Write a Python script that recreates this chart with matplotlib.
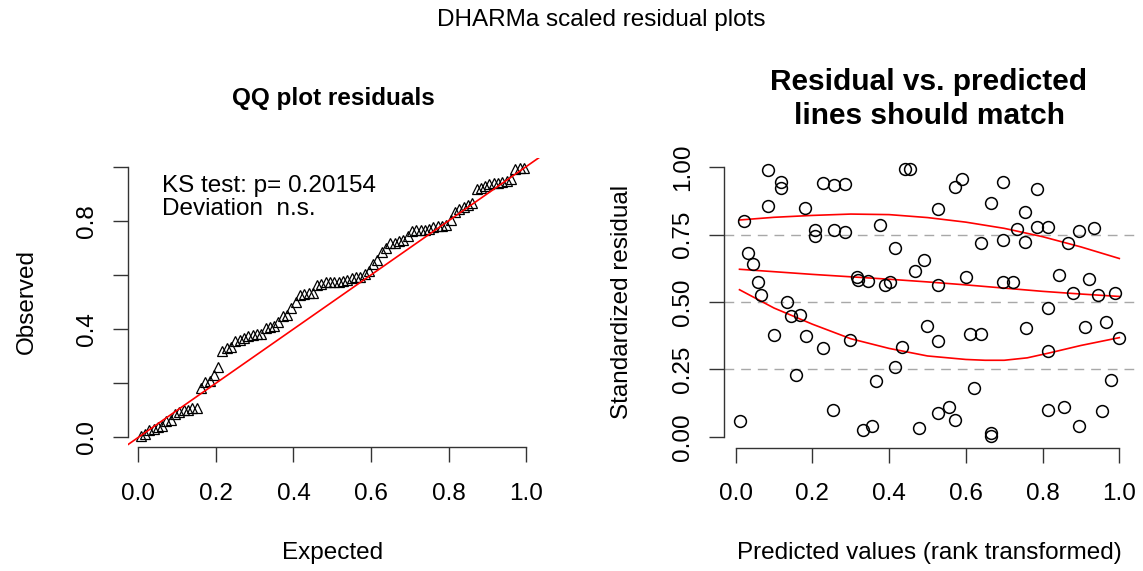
import matplotlib
matplotlib.use("Agg")
import matplotlib.pyplot as plt
import numpy as np

plt.rcParams['font.family'] = ['Liberation Sans', 'DejaVu Sans']

# scaled residuals: predicted rank vs residual
pred_rank = [0.022, 0.084, 0.117, 0.117, 0.084, 0.182, 0.227, 0.256, 0.284, 0.206,
             0.206, 0.256, 0.284, 0.377, 0.416, 0.442, 0.455, 0.527, 0.571, 0.590,
             0.490, 0.467, 0.666, 0.698, 0.755, 0.785, 0.733, 0.785, 0.815, 0.698,
             0.755, 0.639, 0.866, 0.895, 0.934, 0.032, 0.045, 0.058, 0.067, 0.133,
             0.317, 0.318, 0.345, 0.389, 0.401, 0.527, 0.600, 0.698, 0.724, 0.843,
             0.922, 0.879, 0.944, 0.989, 0.143, 0.167, 0.101, 0.183, 0.228, 0.299,
             0.156, 0.011, 0.254, 0.332, 0.356, 0.367, 0.416, 0.433, 0.499, 0.527,
             0.477, 0.527, 0.555, 0.572, 0.610, 0.639, 0.620, 0.666, 0.666, 0.756,
             0.815, 0.815, 0.815, 0.856, 0.895, 0.911, 0.956, 0.965, 0.978, 1.000]
resid = [0.802, 0.991, 0.947, 0.922, 0.858, 0.850, 0.941, 0.935, 0.939, 0.767,
         0.745, 0.767, 0.761, 0.786, 0.701, 0.994, 0.994, 0.845, 0.929, 0.956,
         0.655, 0.614, 0.867, 0.945, 0.833, 0.919, 0.770, 0.780, 0.780, 0.730,
         0.724, 0.718, 0.718, 0.765, 0.777, 0.684, 0.641, 0.575, 0.525, 0.500,
         0.593, 0.581, 0.577, 0.562, 0.575, 0.565, 0.593, 0.575, 0.575, 0.602,
         0.587, 0.534, 0.528, 0.534, 0.447, 0.451, 0.379, 0.374, 0.330, 0.361,
         0.230, 0.060, 0.099, 0.026, 0.038, 0.206, 0.258, 0.335, 0.411, 0.354,
         0.031, 0.087, 0.109, 0.063, 0.382, 0.380, 0.181, 0.012, 0.004, 0.403,
         0.479, 0.318, 0.101, 0.109, 0.041, 0.407, 0.094, 0.426, 0.209, 0.366]

# quantile regression curves (0.75, 0.5, 0.25)
q75_x = [0.01, 0.1, 0.2, 0.3, 0.4, 0.5, 0.6, 0.7, 0.8, 0.9, 1.0]
q75 = [0.805, 0.815, 0.822, 0.827, 0.825, 0.814, 0.797, 0.774, 0.743, 0.705, 0.662]
q50_x = [0.01, 0.1, 0.2, 0.3, 0.4, 0.5, 0.6, 0.7, 0.8, 0.9, 1.0]
q50 = [0.622, 0.613, 0.603, 0.594, 0.585, 0.575, 0.564, 0.552, 0.540, 0.530, 0.521]
q25_x = [0.01, 0.1, 0.2, 0.3, 0.4, 0.5, 0.6, 0.65, 0.7, 0.76, 0.82, 0.9, 1.0]
q25 = [0.546, 0.478, 0.418, 0.364, 0.328, 0.300, 0.287, 0.284, 0.284, 0.293, 0.312, 0.339, 0.368]

ks_text = ["KS test: p= 0.20154", "Deviation  n.s."]

W, H = 1143, 571
FS = 17.5


def r_axes(ax, yticks, ylabels):
    # base-R look: only left/bottom axis lines, spanning first to last tick
    for s in ['top', 'right']:
        ax.spines[s].set_visible(False)
    for s in ['left', 'bottom']:
        ax.spines[s].set_bounds(0, 1)
        ax.spines[s].set_color('#333333')
        ax.spines[s].set_linewidth(1.0)
    ax.set_xticks(np.arange(0, 1.01, 0.2))
    ax.set_xticklabels(['0.0', '0.2', '0.4', '0.6', '0.8', '1.0'])
    ax.set_yticks(yticks)
    ax.set_yticklabels(ylabels)
    ax.tick_params(axis='both', direction='out', length=10.8, width=1.0,
                   color='#333333', labelsize=FS)
    ax.tick_params(axis='x', pad=15)
    ax.tick_params(axis='y', pad=10.5)
    plt.setp(ax.get_yticklabels(), rotation=90, va='center')


fig = plt.figure(figsize=(W / 100, H / 100), dpi=100)

# left: QQ plot
ax1 = fig.add_axes([128 / W, (H - 447) / H, (539.6 - 128) / W, (447 - 157.5) / H])
observed = np.sort(resid)
n = len(observed)
expected = (np.arange(1, n + 1) - 0.5) / n
ax1.plot(expected, observed, linestyle='none', marker='^', markersize=7,
         markerfacecolor='none', markeredgecolor='black', markeredgewidth=0.9)
ax1.axline((0, 0), (1, 1), color='red', linewidth=1.2)
ax1.set_xlim(-0.027, 1.035)
ax1.set_ylim(-0.036, 1.034)
r_axes(ax1, np.arange(0, 1.01, 0.2), ['0.0', '', '0.4', '', '0.8', ''])
ax1.text(0.060, 0.908, ks_text[0], fontsize=FS, va='baseline')
ax1.text(0.060, 0.822, ks_text[1], fontsize=FS, va='baseline')

# right: residual vs predicted
ax2 = fig.add_axes([724 / W, (H - 447.5) / H, 410.5 / W, (447.5 - 157.8) / H])
for h in [0.25, 0.5, 0.75]:
    ax2.axhline(h, color='#a8a8a8', linewidth=1.0, linestyle=(0, (7, 5)), zorder=1)
ax2.plot(pred_rank, resid, linestyle='none', marker='o', markersize=8.5,
         markerfacecolor='none', markeredgecolor='black', markeredgewidth=1.1, zorder=3)
for qx, q in [(q25_x, q25), (q50_x, q50), (q75_x, q75)]:
    ax2.plot(qx, q, color='red', linewidth=1.2, zorder=2)
ax2.set_xlim(-0.0304, 1.0396)
ax2.set_ylim(-0.04, 1.036)
r_axes(ax2, [0, 0.25, 0.5, 0.75, 1.0], ['0.00', '0.25', '0.50', '0.75', '1.00'])

# titles and axis labels
fig.text(601 / W, 1 - 20 / H, 'DHARMa scaled residual plots', fontsize=FS,
         ha='center', va='center')
fig.text(333 / W, 1 - 99 / H, 'QQ plot residuals', fontsize=FS,
         fontweight='bold', ha='center', va='center')
fig.text(929 / W, 1 - 99 / H, 'Residual vs. predicted\nlines should match',
         fontsize=21.5, fontweight='bold', ha='center', va='center',
         linespacing=1.25)
fig.text(333 / W, 1 - 553 / H, 'Expected', fontsize=FS, ha='center', va='center')
fig.text(27 / W, 1 - 302 / H, 'Observed', fontsize=FS, ha='center', va='center',
         rotation=90)
fig.text(929 / W, 1 - 553 / H, 'Predicted values (rank transformed)', fontsize=FS,
         ha='center', va='center')
fig.text(622 / W, 1 - 302 / H, 'Standardized residual', fontsize=FS, ha='center',
         va='center', rotation=90)

fig.savefig('out.png', dpi=100)
